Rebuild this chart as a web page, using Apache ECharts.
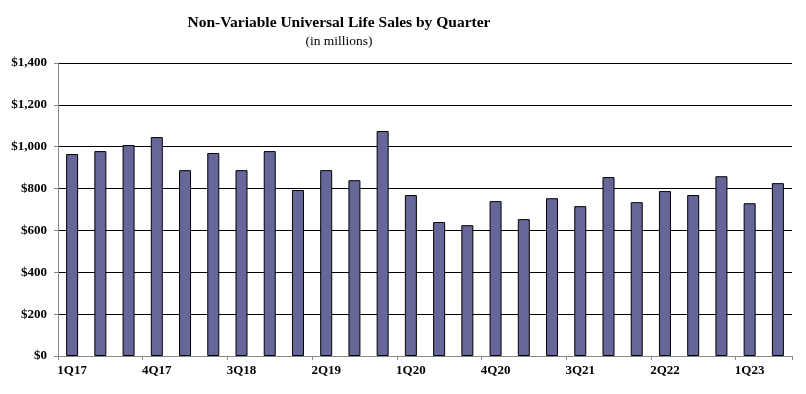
<!DOCTYPE html>
<html><head><meta charset="utf-8">
<script src="https://cdn.jsdelivr.net/npm/echarts@6/dist/echarts.min.js"></script>
<style>html,body{margin:0;padding:0;background:#fff}#c{width:806px;height:394px}</style>
</head><body><div id="c"></div>
<script>
const categories = ['1Q17','2Q17','3Q17','4Q17','1Q18','2Q18','3Q18','4Q18','1Q19','2Q19','3Q19','4Q19','1Q20','2Q20','3Q20','4Q20','1Q21','2Q21','3Q21','4Q21','1Q22','2Q22','3Q22','4Q22','1Q23','2Q23'];
const sales = [965,979,1008,1046,888,970,888,979,793,888,840,1075,769,640,625,740,654,754,716,855,735,788,769,859,730,826];
const yTicks = {min:0, max:1400, interval:200};
const font = '"Liberation Serif","Times New Roman",serif';
const chart = echarts.init(document.getElementById('c'));
chart.setOption({
  animation:false,
  backgroundColor:'#fff',
  title:{
    text:'Non-Variable Universal Life Sales by Quarter',
    subtext:'(in millions)',
    left:334, top:10, textAlign:'center',
    textStyle:{fontFamily:font,fontSize:15.5,fontWeight:'bold',color:'#000'},
    subtextStyle:{fontFamily:font,fontSize:13.5,color:'#000'},
    itemGap:3
  },
  grid:{left:58,right:14,top:63,bottom:38,containLabel:false},
  xAxis:{
    type:'category', data:categories,
    axisLine:{lineStyle:{color:'#888',width:1}},
    axisTick:{show:true,interval:2,length:4,lineStyle:{color:'#888'}},
    axisLabel:{interval:2,fontFamily:font,fontSize:13,fontWeight:'bold',color:'#000',margin:8}
  },
  yAxis:{
    type:'value', min:yTicks.min, max:yTicks.max, interval:yTicks.interval,
    axisLine:{show:true,lineStyle:{color:'#888',width:1}},
    axisTick:{show:true,length:4,lineStyle:{color:'#888'}},
    splitLine:{show:true,lineStyle:{color:'#000',width:1}},
    axisLabel:{fontFamily:font,fontSize:13,fontWeight:'bold',color:'#000',margin:11,
      formatter:v=>'$'+v.toLocaleString('en-US')}
  },
  series:[{
    type:'bar', data:sales, barWidth:12,
    itemStyle:{color:'#666699',borderColor:'#000',borderWidth:1}
  }]
});
</script></body></html>
